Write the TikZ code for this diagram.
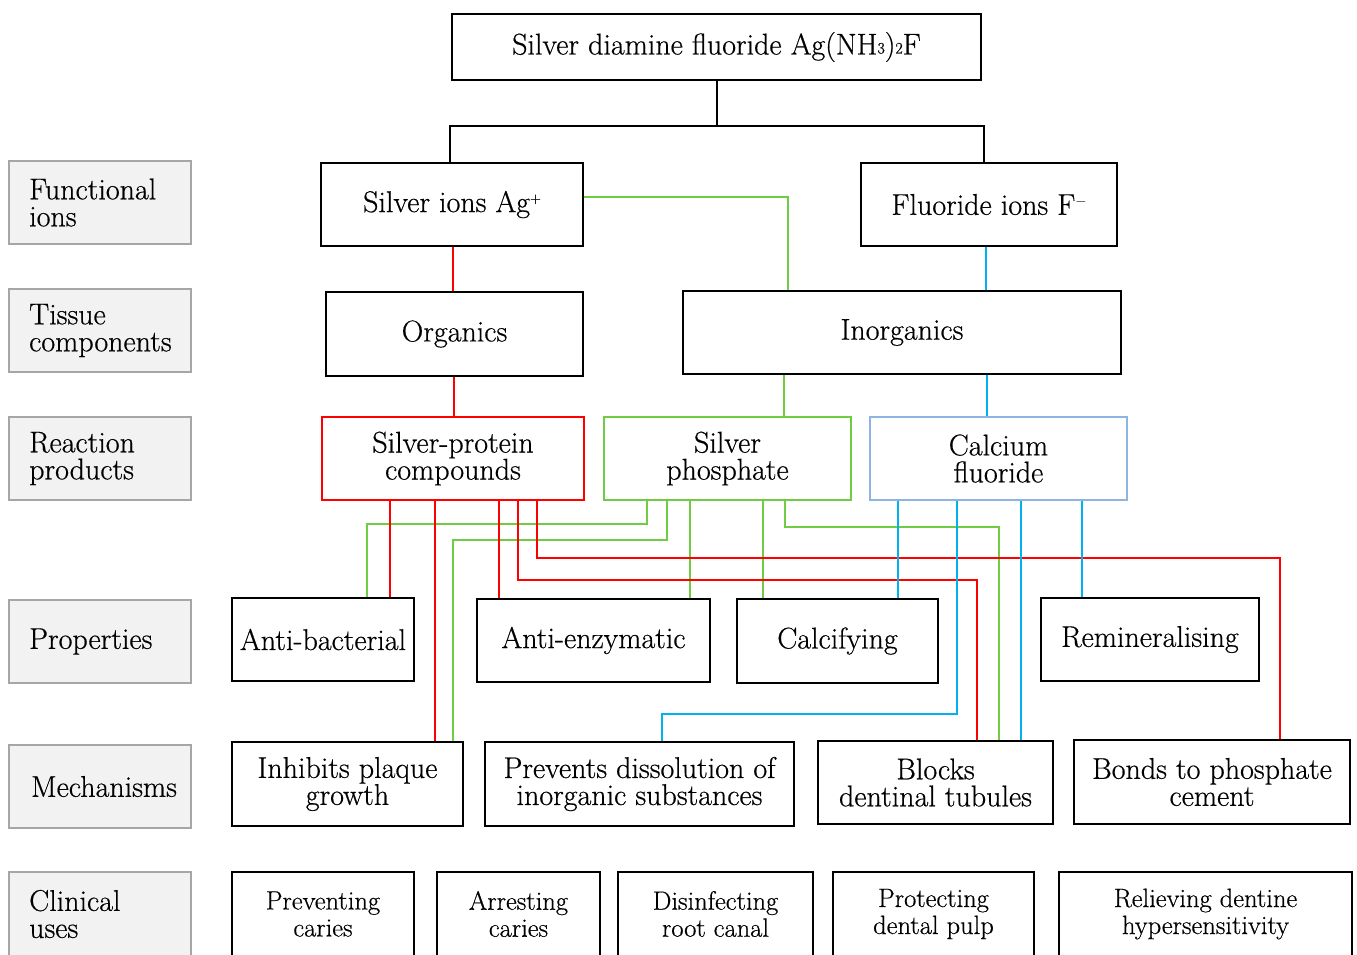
\documentclass[tikz,border=0pt]{standalone}
\usepackage{fontspec}
\setmainfont{Latin Modern Roman}[FakeBold=0.5]
\definecolor{rl}{RGB}{255,0,0}
\definecolor{gl}{RGB}{112,204,66}
\definecolor{bl}{RGB}{0,178,240}
\definecolor{cfb}{RGB}{141,180,226}
\definecolor{lfill}{RGB}{242,242,242}
\definecolor{ldraw}{RGB}{166,166,166}
\tikzset{
  bx/.style={draw=black, line width=2pt, inner sep=0pt, align=center, font=\fontsize{30}{27}\selectfont},
  cbx/.style={bx, font=\fontsize{26.5}{27}\selectfont},
  lbox/.style={draw=ldraw, fill=lfill, line width=1.8pt, minimum width=182pt, minimum height=83pt, inner sep=0pt},
  ltxt/.style={anchor=west, align=left, inner sep=0pt, font=\fontsize{30}{27}\selectfont},
  blk/.style={draw=black, line width=2pt},
  rcon/.style={draw=rl, line width=2.4pt},
  gcon/.style={draw=gl, line width=2.4pt},
  bcon/.style={draw=bl, line width=2.4pt},
}
\begin{document}
\begin{tikzpicture}[x=1pt,y=-1pt]
\useasboundingbox (0,0) rectangle (1357,954);
\clip (0,0) rectangle (1357,954);

% left labels
\node[lbox] (lf1) at (100,202.5) {};
\node[ltxt] (lf1t) at (29,202.5) {Functional\\ions};
\node[lbox] (lf2) at (100,330.5) {};
\node[ltxt] (lf2t) at (29,330.5) {Tissue\\components};
\node[lbox] (lf3) at (100,458.5) {};
\node[ltxt] (lf3t) at (29,458.5) {Reaction\\products};
\node[lbox] (lf4) at (100,641.5) {};
\node[ltxt] (lf4t) at (29,641.5) {Properties};
\node[lbox] (lf5) at (100,786.5) {};
\node[ltxt] (lf5t) at (31,786.5) {Mechanisms};
\node[lbox, minimum height=84pt] (lf6) at (100,914) {};
\node[ltxt] (lf6t) at (29,914) {Clinical\\uses};

% main boxes
\node[bx, minimum width=529pt, minimum height=66pt] (top) at (716.5,47) {Silver diamine fluoride Ag(NH\raisebox{1pt}{\fontsize{16}{16}\selectfont 3})\raisebox{1pt}{\fontsize{16}{16}\selectfont 2}F};
\node[bx, minimum width=262pt, minimum height=83pt] (SI) at (452,204.5) {Silver ions Ag\raisebox{9pt}{\fontsize{15}{15}\selectfont +}};
\node[bx, minimum width=256pt, minimum height=83pt] (FI) at (989,204.5) {Fluoride ions F\raisebox{9pt}{\fontsize{15}{15}\selectfont $-$}};
\node[bx, minimum width=257pt, minimum height=84pt] (Org) at (454.5,334) {Organics};
\node[bx, minimum width=438pt, minimum height=83pt] (Inorg) at (902,332.5) {Inorganics};

\node[bx, draw=rl, minimum width=262pt, minimum height=83pt] (SP) at (453,458.5) {Silver-protein\\compounds};
\node[bx, draw=gl, minimum width=247pt, minimum height=83pt] (SPh) at (727.5,458.5) {Silver\\phosphate};
\node[bx, draw=cfb, minimum width=257pt, minimum height=83pt] (CF) at (998.5,458.5) {Calcium\\fluoride};

\node[bx, minimum width=182pt, minimum height=83pt] (AB) at (323,639.5) {Anti-bacterial};
\node[bx, minimum width=233pt, minimum height=83pt] (AE) at (593.5,640.5) {Anti-enzymatic};
\node[bx, minimum width=201pt, minimum height=84pt] (Calc) at (837.5,641) {Calcifying};
\node[bx, minimum width=218pt, minimum height=83pt] (Rem) at (1150,639.5) {Remineralising};

\node[bx, minimum width=231pt, minimum height=84pt] (IPG) at (347.5,784) {Inhibits plaque\\growth};
\node[bx, minimum width=309pt, minimum height=84pt] (PD) at (639.5,784) {Prevents dissolution of\\inorganic substances};
\node[bx, minimum width=235pt, minimum height=83pt] (BDT) at (935.5,782.5) {Blocks\\dentinal tubules};
\node[bx, minimum width=276pt, minimum height=84pt] (BPC) at (1212,782) {Bonds to phosphate\\cement};

\node[cbx, minimum width=182pt, minimum height=84pt] (PC) at (323,914) {Preventing\\caries};
\node[cbx, minimum width=163pt, minimum height=84pt] (AC) at (518.5,914) {Arresting\\caries};
\node[cbx, minimum width=195pt, minimum height=84pt] (DRC) at (715.5,914) {Disinfecting\\root canal};
\node[cbx, minimum width=201pt, minimum height=84pt] (PDP) at (933.5,914) {Protecting\\dental pulp};
\node[cbx, minimum width=293pt, minimum height=84pt] (RDH) at (1205.5,914) {Relieving dentine\\hypersensitivity};

% top connectors
\coordinate (j1) at (716.5,126);
\draw[blk] (top.south) -- (j1);
\draw[blk] (SI.north -| 450,0) |- (j1) -| (FI.north -| 984,0);

% functional ions -> tissue
\draw[gcon] (SI.east |- 0,197) -| (Inorg.north -| 788,0);
\draw[rcon] (SI.south -| 453,0) -- (Org.north -| 453,0);
\draw[bcon] (FI.south -| 986,0) -- (Inorg.north -| 986,0);

% tissue -> products
\draw[rcon] (Org.south -| 454,0) -- (SP.north -| 454,0);
\draw[gcon] (Inorg.south -| 784,0) -- (SPh.north -| 784,0);
\draw[bcon] (Inorg.south -| 987,0) -- (CF.north -| 987,0);

% green from silver phosphate
\draw[gcon] (SPh.south -| 647,0) |- (367,524) -- (AB.north -| 367,0);
\draw[gcon] (SPh.south -| 667,0) |- (453,540) -- (IPG.north -| 453,0);
\draw[gcon] (SPh.south -| 690,0) -- (AE.north -| 690,0);
\draw[gcon] (SPh.south -| 763,0) -- (Calc.north -| 763,0);
\draw[gcon] (SPh.south -| 785,0) |- (999,527) -- (BDT.north -| 999,0);

% red from silver-protein compounds
\draw[rcon] (SP.south -| 390,0) -- (AB.north -| 390,0);
\draw[rcon] (SP.south -| 435,0) -- (IPG.north -| 435,0);
\draw[rcon] (SP.south -| 499,0) -- (AE.north -| 499,0);
\draw[rcon] (SP.south -| 518,0) |- (977,580) -- (BDT.north -| 977,0);
\draw[rcon] (SP.south -| 537,0) |- (1280,558) -- (BPC.north -| 1280,0);

% blue from calcium fluoride
\draw[bcon] (CF.south -| 898,0) -- (Calc.north -| 898,0);
\draw[bcon] (CF.south -| 957,0) |- (662,714) -- (PD.north -| 662,0);
\draw[bcon] (CF.south -| 1021,0) -- (BDT.north -| 1021,0);
\draw[bcon] (CF.south -| 1082,0) -- (Rem.north -| 1082,0);
\end{tikzpicture}
\end{document}
